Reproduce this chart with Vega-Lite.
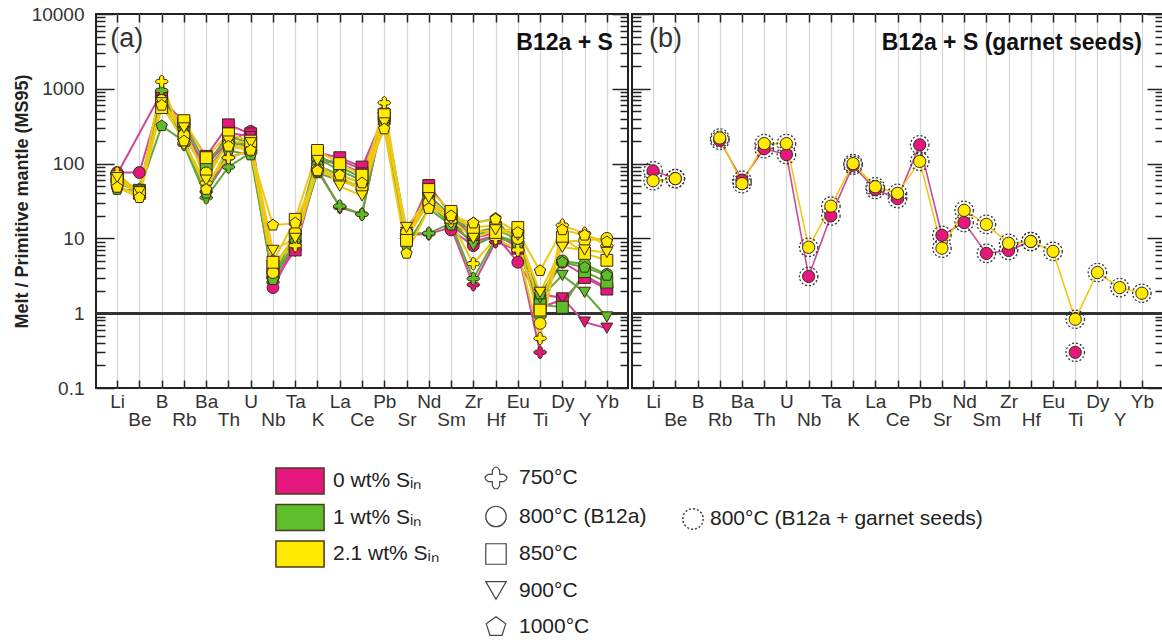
{
  "$schema": "https://vega.github.io/schema/vega-lite/v6.json",
  "background": "white",
  "padding": {"left": 12, "top": 4, "right": 0, "bottom": 0},
  "spacing": 0,
  "config": {
    "font": "Liberation Sans",
    "view": {"stroke": "#222", "strokeWidth": 2},
    "legend": {"labelFont": "Liberation Sans", "labelFontSize": 21, "labelColor": "#222", "labelLimit": 400}
  },
  "datasets": {
    "a": [
      {"s":"0","t":"750","e":"Li","v":72},{"s":"0","t":"750","e":"B","v":900},{"s":"0","t":"750","e":"Rb","v":210},{"s":"0","t":"750","e":"Ba","v":42},{"s":"0","t":"750","e":"Th","v":120},{"s":"0","t":"750","e":"U","v":150},{"s":"0","t":"750","e":"Nb","v":2.6},{"s":"0","t":"750","e":"Ta","v":7},{"s":"0","t":"750","e":"K","v":85},{"s":"0","t":"750","e":"La","v":26},{"s":"0","t":"750","e":"Ce","v":21},{"s":"0","t":"750","e":"Pb","v":480},{"s":"0","t":"750","e":"Sr","v":11},{"s":"0","t":"750","e":"Nd","v":11.5},{"s":"0","t":"750","e":"Sm","v":14},{"s":"0","t":"750","e":"Zr","v":2.4},{"s":"0","t":"750","e":"Hf","v":9},{"s":"0","t":"750","e":"Eu","v":7},{"s":"0","t":"750","e":"Ti","v":0.3},
      {"s":"0","t":"800","e":"Li","v":76},{"s":"0","t":"800","e":"Be","v":76},{"s":"0","t":"800","e":"B","v":800},{"s":"0","t":"800","e":"Rb","v":250},{"s":"0","t":"800","e":"Ba","v":95},{"s":"0","t":"800","e":"Th","v":200},{"s":"0","t":"800","e":"U","v":270},{"s":"0","t":"800","e":"Nb","v":2.2},{"s":"0","t":"800","e":"Ta","v":8},{"s":"0","t":"800","e":"K","v":100},{"s":"0","t":"800","e":"La","v":110},{"s":"0","t":"800","e":"Ce","v":85},{"s":"0","t":"800","e":"Pb","v":420},{"s":"0","t":"800","e":"Sr","v":10},{"s":"0","t":"800","e":"Nd","v":40},{"s":"0","t":"800","e":"Sm","v":13},{"s":"0","t":"800","e":"Zr","v":8},{"s":"0","t":"800","e":"Hf","v":11},{"s":"0","t":"800","e":"Eu","v":4.8},{"s":"0","t":"800","e":"Ti","v":1.6},{"s":"0","t":"800","e":"Dy","v":4.8},{"s":"0","t":"800","e":"Y","v":3.2},{"s":"0","t":"800","e":"Yb","v":2.2},
      {"s":"0","t":"850","e":"Li","v":66},{"s":"0","t":"850","e":"Be","v":42},{"s":"0","t":"850","e":"B","v":750},{"s":"0","t":"850","e":"Rb","v":350},{"s":"0","t":"850","e":"Ba","v":125},{"s":"0","t":"850","e":"Th","v":330},{"s":"0","t":"850","e":"U","v":250},{"s":"0","t":"850","e":"Nb","v":3.4},{"s":"0","t":"850","e":"Ta","v":7},{"s":"0","t":"850","e":"K","v":140},{"s":"0","t":"850","e":"La","v":120},{"s":"0","t":"850","e":"Ce","v":90},{"s":"0","t":"850","e":"Pb","v":440},{"s":"0","t":"850","e":"Sr","v":11},{"s":"0","t":"850","e":"Nd","v":51},{"s":"0","t":"850","e":"Sm","v":21},{"s":"0","t":"850","e":"Zr","v":10},{"s":"0","t":"850","e":"Hf","v":12},{"s":"0","t":"850","e":"Eu","v":7.4},{"s":"0","t":"850","e":"Ti","v":1.2},{"s":"0","t":"850","e":"Dy","v":1.5},{"s":"0","t":"850","e":"Y","v":3},{"s":"0","t":"850","e":"Yb","v":2.1},
      {"s":"0","t":"900","e":"Li","v":62},{"s":"0","t":"900","e":"Be","v":42},{"s":"0","t":"900","e":"B","v":700},{"s":"0","t":"900","e":"Rb","v":300},{"s":"0","t":"900","e":"Ba","v":85},{"s":"0","t":"900","e":"Th","v":260},{"s":"0","t":"900","e":"U","v":230},{"s":"0","t":"900","e":"Nb","v":3},{"s":"0","t":"900","e":"Ta","v":7.5},{"s":"0","t":"900","e":"K","v":120},{"s":"0","t":"900","e":"La","v":100},{"s":"0","t":"900","e":"Ce","v":75},{"s":"0","t":"900","e":"Pb","v":400},{"s":"0","t":"900","e":"Sr","v":12},{"s":"0","t":"900","e":"Nd","v":38},{"s":"0","t":"900","e":"Sm","v":15},{"s":"0","t":"900","e":"Zr","v":9},{"s":"0","t":"900","e":"Hf","v":11},{"s":"0","t":"900","e":"Eu","v":8},{"s":"0","t":"900","e":"Ti","v":1.8},{"s":"0","t":"900","e":"Dy","v":1.6},{"s":"0","t":"900","e":"Y","v":0.76},{"s":"0","t":"900","e":"Yb","v":0.63},
      {"s":"1","t":"750","e":"Li","v":62},{"s":"1","t":"750","e":"Be","v":45},{"s":"1","t":"750","e":"B","v":950},{"s":"1","t":"750","e":"Rb","v":180},{"s":"1","t":"750","e":"Ba","v":35},{"s":"1","t":"750","e":"Th","v":90},{"s":"1","t":"750","e":"U","v":140},{"s":"1","t":"750","e":"Nb","v":3},{"s":"1","t":"750","e":"Ta","v":9},{"s":"1","t":"750","e":"K","v":80},{"s":"1","t":"750","e":"La","v":27},{"s":"1","t":"750","e":"Ce","v":21},{"s":"1","t":"750","e":"Pb","v":520},{"s":"1","t":"750","e":"Sr","v":11.7},{"s":"1","t":"750","e":"Nd","v":11.7},{"s":"1","t":"750","e":"Sm","v":16},{"s":"1","t":"750","e":"Zr","v":2.9},{"s":"1","t":"750","e":"Hf","v":10},{"s":"1","t":"750","e":"Eu","v":9},{"s":"1","t":"750","e":"Ti","v":0.9},
      {"s":"1","t":"800","e":"Li","v":56},{"s":"1","t":"800","e":"Be","v":42},{"s":"1","t":"800","e":"B","v":700},{"s":"1","t":"800","e":"Rb","v":230},{"s":"1","t":"800","e":"Ba","v":80},{"s":"1","t":"800","e":"Th","v":190},{"s":"1","t":"800","e":"U","v":170},{"s":"1","t":"800","e":"Nb","v":3},{"s":"1","t":"800","e":"Ta","v":11.7},{"s":"1","t":"800","e":"K","v":95},{"s":"1","t":"800","e":"La","v":70},{"s":"1","t":"800","e":"Ce","v":55},{"s":"1","t":"800","e":"Pb","v":420},{"s":"1","t":"800","e":"Sr","v":12},{"s":"1","t":"800","e":"Nd","v":28},{"s":"1","t":"800","e":"Sm","v":16},{"s":"1","t":"800","e":"Zr","v":11},{"s":"1","t":"800","e":"Hf","v":13},{"s":"1","t":"800","e":"Eu","v":10},{"s":"1","t":"800","e":"Ti","v":1.5},{"s":"1","t":"800","e":"Dy","v":5},{"s":"1","t":"800","e":"Y","v":4.5},{"s":"1","t":"800","e":"Yb","v":3.3},
      {"s":"1","t":"850","e":"Li","v":66},{"s":"1","t":"850","e":"Be","v":44},{"s":"1","t":"850","e":"B","v":650},{"s":"1","t":"850","e":"Rb","v":330},{"s":"1","t":"850","e":"Ba","v":100},{"s":"1","t":"850","e":"Th","v":230},{"s":"1","t":"850","e":"U","v":190},{"s":"1","t":"850","e":"Nb","v":4},{"s":"1","t":"850","e":"Ta","v":11},{"s":"1","t":"850","e":"K","v":130},{"s":"1","t":"850","e":"La","v":90},{"s":"1","t":"850","e":"Ce","v":65},{"s":"1","t":"850","e":"Pb","v":400},{"s":"1","t":"850","e":"Sr","v":10},{"s":"1","t":"850","e":"Nd","v":38},{"s":"1","t":"850","e":"Sm","v":20},{"s":"1","t":"850","e":"Zr","v":12},{"s":"1","t":"850","e":"Hf","v":14},{"s":"1","t":"850","e":"Eu","v":11},{"s":"1","t":"850","e":"Ti","v":1.3},{"s":"1","t":"850","e":"Dy","v":1.2},{"s":"1","t":"850","e":"Y","v":3.6},{"s":"1","t":"850","e":"Yb","v":2.6},
      {"s":"1","t":"900","e":"Li","v":63},{"s":"1","t":"900","e":"Be","v":43},{"s":"1","t":"900","e":"B","v":600},{"s":"1","t":"900","e":"Rb","v":280},{"s":"1","t":"900","e":"Ba","v":70},{"s":"1","t":"900","e":"Th","v":200},{"s":"1","t":"900","e":"U","v":180},{"s":"1","t":"900","e":"Nb","v":3.8},{"s":"1","t":"900","e":"Ta","v":10},{"s":"1","t":"900","e":"K","v":120},{"s":"1","t":"900","e":"La","v":80},{"s":"1","t":"900","e":"Ce","v":60},{"s":"1","t":"900","e":"Pb","v":380},{"s":"1","t":"900","e":"Sr","v":11},{"s":"1","t":"900","e":"Nd","v":33},{"s":"1","t":"900","e":"Sm","v":18},{"s":"1","t":"900","e":"Zr","v":8},{"s":"1","t":"900","e":"Hf","v":11},{"s":"1","t":"900","e":"Eu","v":9},{"s":"1","t":"900","e":"Ti","v":1.6},{"s":"1","t":"900","e":"Dy","v":3.2},{"s":"1","t":"900","e":"Y","v":1.9},{"s":"1","t":"900","e":"Yb","v":0.89},
      {"s":"1","t":"1000","e":"Li","v":45},{"s":"1","t":"1000","e":"Be","v":44},{"s":"1","t":"1000","e":"B","v":320},{"s":"1","t":"1000","e":"Rb","v":200},{"s":"1","t":"1000","e":"Ba","v":40},{"s":"1","t":"1000","e":"Th","v":150},{"s":"1","t":"1000","e":"U","v":130},{"s":"1","t":"1000","e":"Nb","v":2.8},{"s":"1","t":"1000","e":"Ta","v":9},{"s":"1","t":"1000","e":"K","v":75},{"s":"1","t":"1000","e":"La","v":60},{"s":"1","t":"1000","e":"Ce","v":50},{"s":"1","t":"1000","e":"Pb","v":330},{"s":"1","t":"1000","e":"Sr","v":8},{"s":"1","t":"1000","e":"Nd","v":25},{"s":"1","t":"1000","e":"Sm","v":15},{"s":"1","t":"1000","e":"Zr","v":16},{"s":"1","t":"1000","e":"Hf","v":18.5},{"s":"1","t":"1000","e":"Eu","v":8},{"s":"1","t":"1000","e":"Ti","v":1.8},{"s":"1","t":"1000","e":"Dy","v":4.8},{"s":"1","t":"1000","e":"Y","v":4.1},{"s":"1","t":"1000","e":"Yb","v":3.2},
      {"s":"2.1","t":"750","e":"Li","v":75},{"s":"2.1","t":"750","e":"Be","v":40},{"s":"2.1","t":"750","e":"B","v":1250},{"s":"2.1","t":"750","e":"Rb","v":190},{"s":"2.1","t":"750","e":"Ba","v":55},{"s":"2.1","t":"750","e":"Th","v":120},{"s":"2.1","t":"750","e":"U","v":150},{"s":"2.1","t":"750","e":"Nb","v":5},{"s":"2.1","t":"750","e":"Ta","v":8},{"s":"2.1","t":"750","e":"K","v":90},{"s":"2.1","t":"750","e":"La","v":60},{"s":"2.1","t":"750","e":"Ce","v":45},{"s":"2.1","t":"750","e":"Pb","v":650},{"s":"2.1","t":"750","e":"Sr","v":10},{"s":"2.1","t":"750","e":"Nd","v":30},{"s":"2.1","t":"750","e":"Sm","v":17},{"s":"2.1","t":"750","e":"Zr","v":4.6},{"s":"2.1","t":"750","e":"Hf","v":10},{"s":"2.1","t":"750","e":"Eu","v":7},{"s":"2.1","t":"750","e":"Ti","v":0.46},{"s":"2.1","t":"750","e":"Dy","v":15},{"s":"2.1","t":"750","e":"Y","v":11.7},{"s":"2.1","t":"750","e":"Yb","v":8},
      {"s":"2.1","t":"800","e":"Li","v":50},{"s":"2.1","t":"800","e":"Be","v":38},{"s":"2.1","t":"800","e":"B","v":700},{"s":"2.1","t":"800","e":"Rb","v":240},{"s":"2.1","t":"800","e":"Ba","v":75},{"s":"2.1","t":"800","e":"Th","v":180},{"s":"2.1","t":"800","e":"U","v":160},{"s":"2.1","t":"800","e":"Nb","v":3.5},{"s":"2.1","t":"800","e":"Ta","v":12},{"s":"2.1","t":"800","e":"K","v":80},{"s":"2.1","t":"800","e":"La","v":65},{"s":"2.1","t":"800","e":"Ce","v":48},{"s":"2.1","t":"800","e":"Pb","v":400},{"s":"2.1","t":"800","e":"Sr","v":12},{"s":"2.1","t":"800","e":"Nd","v":30},{"s":"2.1","t":"800","e":"Sm","v":20},{"s":"2.1","t":"800","e":"Zr","v":14},{"s":"2.1","t":"800","e":"Hf","v":15},{"s":"2.1","t":"800","e":"Eu","v":10},{"s":"2.1","t":"800","e":"Ti","v":0.73},{"s":"2.1","t":"800","e":"Dy","v":9},{"s":"2.1","t":"800","e":"Y","v":9.4},{"s":"2.1","t":"800","e":"Yb","v":10},
      {"s":"2.1","t":"850","e":"Li","v":60},{"s":"2.1","t":"850","e":"Be","v":40},{"s":"2.1","t":"850","e":"B","v":560},{"s":"2.1","t":"850","e":"Rb","v":375},{"s":"2.1","t":"850","e":"Ba","v":120},{"s":"2.1","t":"850","e":"Th","v":250},{"s":"2.1","t":"850","e":"U","v":200},{"s":"2.1","t":"850","e":"Nb","v":4.8},{"s":"2.1","t":"850","e":"Ta","v":18},{"s":"2.1","t":"850","e":"K","v":150},{"s":"2.1","t":"850","e":"La","v":100},{"s":"2.1","t":"850","e":"Ce","v":70},{"s":"2.1","t":"850","e":"Pb","v":450},{"s":"2.1","t":"850","e":"Sr","v":9.4},{"s":"2.1","t":"850","e":"Nd","v":45},{"s":"2.1","t":"850","e":"Sm","v":23},{"s":"2.1","t":"850","e":"Zr","v":12.8},{"s":"2.1","t":"850","e":"Hf","v":12},{"s":"2.1","t":"850","e":"Eu","v":14},{"s":"2.1","t":"850","e":"Ti","v":1.1},{"s":"2.1","t":"850","e":"Dy","v":10.3},{"s":"2.1","t":"850","e":"Y","v":6.3},{"s":"2.1","t":"850","e":"Yb","v":5.1},
      {"s":"2.1","t":"900","e":"Li","v":65},{"s":"2.1","t":"900","e":"Be","v":42},{"s":"2.1","t":"900","e":"B","v":650},{"s":"2.1","t":"900","e":"Rb","v":300},{"s":"2.1","t":"900","e":"Ba","v":60},{"s":"2.1","t":"900","e":"Th","v":200},{"s":"2.1","t":"900","e":"U","v":190},{"s":"2.1","t":"900","e":"Nb","v":6.9},{"s":"2.1","t":"900","e":"Ta","v":10},{"s":"2.1","t":"900","e":"K","v":110},{"s":"2.1","t":"900","e":"La","v":50},{"s":"2.1","t":"900","e":"Ce","v":37},{"s":"2.1","t":"900","e":"Pb","v":350},{"s":"2.1","t":"900","e":"Sr","v":14},{"s":"2.1","t":"900","e":"Nd","v":35},{"s":"2.1","t":"900","e":"Sm","v":18},{"s":"2.1","t":"900","e":"Zr","v":10},{"s":"2.1","t":"900","e":"Hf","v":13},{"s":"2.1","t":"900","e":"Eu","v":11},{"s":"2.1","t":"900","e":"Ti","v":1.9},{"s":"2.1","t":"900","e":"Dy","v":7.6},{"s":"2.1","t":"900","e":"Y","v":7},{"s":"2.1","t":"900","e":"Yb","v":6.5},
      {"s":"2.1","t":"1000","e":"Li","v":48},{"s":"2.1","t":"1000","e":"Be","v":35},{"s":"2.1","t":"1000","e":"B","v":600},{"s":"2.1","t":"1000","e":"Rb","v":200},{"s":"2.1","t":"1000","e":"Ba","v":45},{"s":"2.1","t":"1000","e":"Th","v":170},{"s":"2.1","t":"1000","e":"U","v":150},{"s":"2.1","t":"1000","e":"Nb","v":15},{"s":"2.1","t":"1000","e":"Ta","v":16},{"s":"2.1","t":"1000","e":"K","v":80},{"s":"2.1","t":"1000","e":"La","v":70},{"s":"2.1","t":"1000","e":"Ce","v":55},{"s":"2.1","t":"1000","e":"Pb","v":290},{"s":"2.1","t":"1000","e":"Sr","v":6.3},{"s":"2.1","t":"1000","e":"Nd","v":25},{"s":"2.1","t":"1000","e":"Sm","v":20},{"s":"2.1","t":"1000","e":"Zr","v":16},{"s":"2.1","t":"1000","e":"Hf","v":18},{"s":"2.1","t":"1000","e":"Eu","v":12},{"s":"2.1","t":"1000","e":"Ti","v":3.7},{"s":"2.1","t":"1000","e":"Dy","v":13},{"s":"2.1","t":"1000","e":"Y","v":11},{"s":"2.1","t":"1000","e":"Yb","v":9}
    ],
    "b": [
      {"s":"0","e":"Li","v":80},{"s":"0","e":"Be","v":63},{"s":"0","e":"B","v":null},{"s":"0","e":"Rb","v":205},{"s":"0","e":"Ba","v":60},{"s":"0","e":"Th","v":158},{"s":"0","e":"U","v":132},{"s":"0","e":"Nb","v":3.1},{"s":"0","e":"Ta","v":20},{"s":"0","e":"K","v":95},{"s":"0","e":"La","v":45},{"s":"0","e":"Ce","v":34},{"s":"0","e":"Pb","v":178},{"s":"0","e":"Sr","v":11},{"s":"0","e":"Nd","v":16.3},{"s":"0","e":"Sm","v":6.3},{"s":"0","e":"Zr","v":6.9},{"s":"0","e":"Hf","v":9.1},{"s":"0","e":"Eu","v":null},{"s":"0","e":"Ti","v":0.3},{"s":"0","e":"Dy","v":null},
      {"s":"2.1","e":"Li","v":59},{"s":"2.1","e":"Be","v":63},{"s":"2.1","e":"B","v":null},{"s":"2.1","e":"Rb","v":220},{"s":"2.1","e":"Ba","v":54},{"s":"2.1","e":"Th","v":185},{"s":"2.1","e":"U","v":185},{"s":"2.1","e":"Nb","v":7.6},{"s":"2.1","e":"Ta","v":27},{"s":"2.1","e":"K","v":100},{"s":"2.1","e":"La","v":49},{"s":"2.1","e":"Ce","v":40},{"s":"2.1","e":"Pb","v":107},{"s":"2.1","e":"Sr","v":7.4},{"s":"2.1","e":"Nd","v":23.7},{"s":"2.1","e":"Sm","v":15.4},{"s":"2.1","e":"Zr","v":8.6},{"s":"2.1","e":"Hf","v":9.1},{"s":"2.1","e":"Eu","v":6.7},{"s":"2.1","e":"Ti","v":0.83},{"s":"2.1","e":"Dy","v":3.5},{"s":"2.1","e":"Y","v":2.2},{"s":"2.1","e":"Yb","v":1.85}
    ]
  },
  "hconcat": [
    {
      "width": 532,
      "height": 374,
      "data": {"name": "a"},
      "layer": [
        {
          "mark": {"type": "rule", "stroke": "#333", "strokeWidth": 2},
          "encoding": {"y": {"datum": 1, "type": "quantitative", "scale": {"type": "log", "domain": [0.1, 10000], "nice": false}, "axis": null}}
        },
        {
          "mark": {"type": "line", "strokeWidth": 2},
          "encoding": {
            "x": {"field": "e", "type": "nominal", "scale": {"type": "point", "domain": ["Li","Be","B","Rb","Ba","Th","U","Nb","Ta","K","La","Ce","Pb","Sr","Nd","Sm","Zr","Hf","Eu","Ti","Dy","Y","Yb"], "padding": 0.95},
              "axis": {"orient": "bottom", "title": null, "domain": false, "tickSize": -8, "tickColor": "#222", "tickWidth": 1.5, "labelFontSize": 19, "labelColor": "#333", "labelAngle": 0, "labelBaseline": "top", "labelOverlap": false, "labelBound": false, "labelPadding": {"condition": {"test": "indexof(['Be','Rb','Th','Nb','K','Ce','Sr','Sm','Hf','Ti','Y'], datum.value) >= 0", "value": 30}, "value": 12}, "grid": true, "gridColor": "#d6d6d6", "gridWidth": 1.2}},
            "y": {"field": "v", "type": "quantitative", "scale": {"type": "log", "domain": [0.1, 10000], "nice": false},
              "axis": {"orient": "left", "values": [0.1,0.2,0.3,0.4,0.5,0.6,0.7,0.8,0.9,1,2,3,4,5,6,7,8,9,10,20,30,40,50,60,70,80,90,100,200,300,400,500,600,700,800,900,1000,2000,3000,4000,5000,6000,7000,8000,9000,10000], "labelExpr": "indexof([0.1,1,10,100,1000,10000], datum.value) >= 0 ? '' + datum.value : ''", "labelOverlap": false, "labelFlush": false, "labelFontSize": 19, "labelColor": "#333", "labelPadding": 30, "tickSize": {"condition": {"test": "indexof([0.1,1,10,100,1000,10000], datum.value) >= 0", "value": -18}, "value": -9}, "tickColor": "#222", "tickWidth": 1.5, "domain": false, "grid": false, "title": "Melt / Primitive mantle (MS95)", "titleFontSize": 18, "titleFontWeight": "bold", "titleColor": "#222", "titlePadding": 0}},
            "stroke": {"field": "s", "type": "nominal", "scale": {"domain": ["2.1","1","0"], "range": ["#EEC814","#62A838","#CC4A98"]}, "legend": null},
            "detail": {"field": "t"},
            "order": {"value": null}
          }
        },
        {
          "mark": {"type": "point", "filled": true, "size": 140, "stroke": "#3b2b12", "strokeWidth": 1, "opacity": 1},
          "encoding": {
            "x": {"field": "e", "type": "nominal", "scale": {"type": "point", "domain": ["Li","Be","B","Rb","Ba","Th","U","Nb","Ta","K","La","Ce","Pb","Sr","Nd","Sm","Zr","Hf","Eu","Ti","Dy","Y","Yb"], "padding": 0.95},
              "axis": {"orient": "top", "title": null, "domain": false, "labels": false, "grid": false, "tickSize": -8, "tickColor": "#222", "tickWidth": 1.5}},
            "y": {"field": "v", "type": "quantitative", "scale": {"type": "log", "domain": [0.1, 10000], "nice": false},
              "axis": {"orient": "right", "values": [0.1,0.2,0.3,0.4,0.5,0.6,0.7,0.8,0.9,1,2,3,4,5,6,7,8,9,10,20,30,40,50,60,70,80,90,100,200,300,400,500,600,700,800,900,1000,2000,3000,4000,5000,6000,7000,8000,9000,10000], "labels": false, "title": null, "grid": false, "domain": false, "tickSize": {"condition": {"test": "indexof([0.1,1,10,100,1000,10000], datum.value) >= 0", "value": -16}, "value": -8}, "tickColor": "#222", "tickWidth": 1.5}},
            "color": {"field": "s", "type": "nominal", "scale": {"domain": ["0","1","2.1"], "range": ["#E3177E","#5DBD2B","#FFEA00"]},
              "legend": {"title": null, "orient": "none", "legendX": 190, "legendY": 453, "direction": "vertical", "symbolType": "M-1.85,-1L1.85,-1L1.85,1L-1.85,1Z", "symbolSize": 676, "symbolStrokeColor": "#4a3a22", "symbolStrokeWidth": 1.5, "labelExpr": "datum.label + ' wt% Sᵢₙ'", "labelOffset": 19, "rowPadding": 4.5, "labelFontSize": 21}},
            "shape": {"field": "t", "type": "nominal", "scale": {"domain": ["750","800","850","900","1000"], "range": ["M-0.36,-0.75Q0,-1.4,0.36,-0.75L0.36,-0.36L0.75,-0.36Q1.4,0,0.75,0.36L0.36,0.36L0.36,0.75Q0,1.4,-0.36,0.75L-0.36,0.36L-0.75,0.36Q-1.4,0,-0.75,-0.36L-0.36,-0.36Z", "circle", "square", "triangle-down", "M0,-1L0.951,-0.309L0.588,0.809L-0.588,0.809L-0.951,-0.309Z"]},
              "legend": {"title": null, "orient": "none", "legendX": 389, "legendY": 453, "direction": "vertical", "symbolSize": 420, "symbolFillColor": "white", "symbolStrokeColor": "#444", "symbolStrokeWidth": 1.2, "labelExpr": "datum.label == '800' ? '800°C (B12a)' : datum.label + '°C'", "labelOffset": 12, "rowPadding": 11.5, "labelFontSize": 21}}
          }
        },
        {
          "data": {"values": [{}]},
          "mark": {"type": "text", "text": "(a)", "align": "left", "baseline": "middle", "fontSize": 27, "color": "#333", "dx": -7},
          "encoding": {"x": {"datum": "Li", "type": "nominal", "axis": null}, "y": {"datum": 4600, "type": "quantitative", "axis": null}}
        },
        {
          "data": {"values": [{}]},
          "mark": {"type": "text", "text": "B12a + S", "align": "right", "baseline": "middle", "fontSize": 23, "fontWeight": "bold", "color": "#111", "dx": 6},
          "encoding": {"x": {"datum": "Yb", "type": "nominal", "axis": null}, "y": {"datum": 4100, "type": "quantitative", "axis": null}}
        }
      ],
      "resolve": {"axis": {"x": "independent", "y": "independent"}}
    },
    {
      "width": 531,
      "height": 374,
      "data": {"name": "b"},
      "layer": [
        {
          "mark": {"type": "rule", "stroke": "#333", "strokeWidth": 2},
          "encoding": {"y": {"datum": 1, "type": "quantitative", "scale": {"type": "log", "domain": [0.1, 10000], "nice": false}, "axis": null}}
        },
        {
          "mark": {"type": "line", "strokeWidth": 1.6, "invalid": "break-paths-filter-domains"},
          "encoding": {
            "x": {"field": "e", "type": "nominal", "scale": {"type": "point", "domain": ["Li","Be","B","Rb","Ba","Th","U","Nb","Ta","K","La","Ce","Pb","Sr","Nd","Sm","Zr","Hf","Eu","Ti","Dy","Y","Yb"], "padding": 0.95},
              "axis": {"orient": "bottom", "title": null, "domain": false, "tickSize": -8, "tickColor": "#222", "tickWidth": 1.5, "labelFontSize": 19, "labelColor": "#333", "labelAngle": 0, "labelBaseline": "top", "labelOverlap": false, "labelBound": false, "labelPadding": {"condition": {"test": "indexof(['Be','Rb','Th','Nb','K','Ce','Sr','Sm','Hf','Ti','Y'], datum.value) >= 0", "value": 30}, "value": 12}, "grid": true, "gridColor": "#d6d6d6", "gridWidth": 1.2}},
            "y": {"field": "v", "type": "quantitative", "scale": {"type": "log", "domain": [0.1, 10000], "nice": false},
              "axis": {"orient": "left", "values": [0.1,0.2,0.3,0.4,0.5,0.6,0.7,0.8,0.9,1,2,3,4,5,6,7,8,9,10,20,30,40,50,60,70,80,90,100,200,300,400,500,600,700,800,900,1000,2000,3000,4000,5000,6000,7000,8000,9000,10000], "labels": false, "title": null, "grid": false, "domain": false, "tickSize": {"condition": {"test": "indexof([0.1,1,10,100,1000,10000], datum.value) >= 0", "value": -18}, "value": -9}, "tickColor": "#222", "tickWidth": 1.5}},
            "stroke": {"field": "s", "type": "nominal", "scale": {"domain": ["2.1","1","0"], "range": ["#EEC814","#62A838","#CC4A98"]}, "legend": null},
            "order": {"value": null}
          }
        },
        {
          "mark": {"type": "point", "shape": "circle", "filled": false, "size": 340, "stroke": "#333", "strokeWidth": 1.3, "opacity": 1},
          "encoding": {
            "x": {"field": "e", "type": "nominal", "scale": {"type": "point", "domain": ["Li","Be","B","Rb","Ba","Th","U","Nb","Ta","K","La","Ce","Pb","Sr","Nd","Sm","Zr","Hf","Eu","Ti","Dy","Y","Yb"], "padding": 0.95},
              "axis": {"orient": "top", "title": null, "domain": false, "labels": false, "grid": false, "tickSize": -8, "tickColor": "#222", "tickWidth": 1.5}},
            "y": {"field": "v", "type": "quantitative", "scale": {"type": "log", "domain": [0.1, 10000], "nice": false},
              "axis": {"orient": "right", "values": [0.1,0.2,0.3,0.4,0.5,0.6,0.7,0.8,0.9,1,2,3,4,5,6,7,8,9,10,20,30,40,50,60,70,80,90,100,200,300,400,500,600,700,800,900,1000,2000,3000,4000,5000,6000,7000,8000,9000,10000], "labels": false, "title": null, "grid": false, "domain": false, "tickSize": {"condition": {"test": "indexof([0.1,1,10,100,1000,10000], datum.value) >= 0", "value": -16}, "value": -8}, "tickColor": "#222", "tickWidth": 1.5}},
            "strokeDash": {"datum": "800°C (B12a + garnet seeds)", "type": "nominal", "scale": {"range": [[2, 2]]},
              "legend": {"title": null, "orient": "none", "legendX": 586, "legendY": 494, "symbolType": "circle", "symbolSize": 420, "symbolFillColor": "white", "symbolStrokeColor": "#333", "symbolStrokeWidth": 1.4, "labelOffset": 6, "labelFontSize": 21, "labelLimit": 400}}
          }
        },
        {
          "mark": {"type": "point", "shape": "circle", "filled": true, "size": 150, "stroke": "#3b2b12", "strokeWidth": 1, "opacity": 1},
          "encoding": {
            "x": {"field": "e", "type": "nominal", "scale": {"type": "point", "domain": ["Li","Be","B","Rb","Ba","Th","U","Nb","Ta","K","La","Ce","Pb","Sr","Nd","Sm","Zr","Hf","Eu","Ti","Dy","Y","Yb"], "padding": 0.95}, "axis": null},
            "y": {"field": "v", "type": "quantitative", "scale": {"type": "log", "domain": [0.1, 10000], "nice": false}, "axis": null},
            "fill": {"field": "s", "type": "nominal", "scale": {"domain": ["1","2.1","0"], "range": ["#5DBD2B","#FFEA00","#E3177E"]}, "legend": null}
          }
        },
        {
          "data": {"values": [{}]},
          "mark": {"type": "text", "text": "(b)", "align": "left", "baseline": "middle", "fontSize": 27, "color": "#333", "dx": -4},
          "encoding": {"x": {"datum": "Li", "type": "nominal", "axis": null}, "y": {"datum": 4600, "type": "quantitative", "axis": null}}
        },
        {
          "data": {"values": [{}]},
          "mark": {"type": "text", "text": "B12a + S (garnet seeds)", "align": "right", "baseline": "middle", "fontSize": 23, "fontWeight": "bold", "color": "#111", "dx": 0},
          "encoding": {"x": {"datum": "Yb", "type": "nominal", "axis": null}, "y": {"datum": 4100, "type": "quantitative", "axis": null}}
        }
      ],
      "resolve": {"axis": {"x": "independent", "y": "independent"}}
    }
  ],
  "resolve": {"scale": {"x": "independent", "y": "shared", "color": "shared", "shape": "shared", "stroke": "shared", "strokeDash": "shared", "fill": "shared"}}
}
